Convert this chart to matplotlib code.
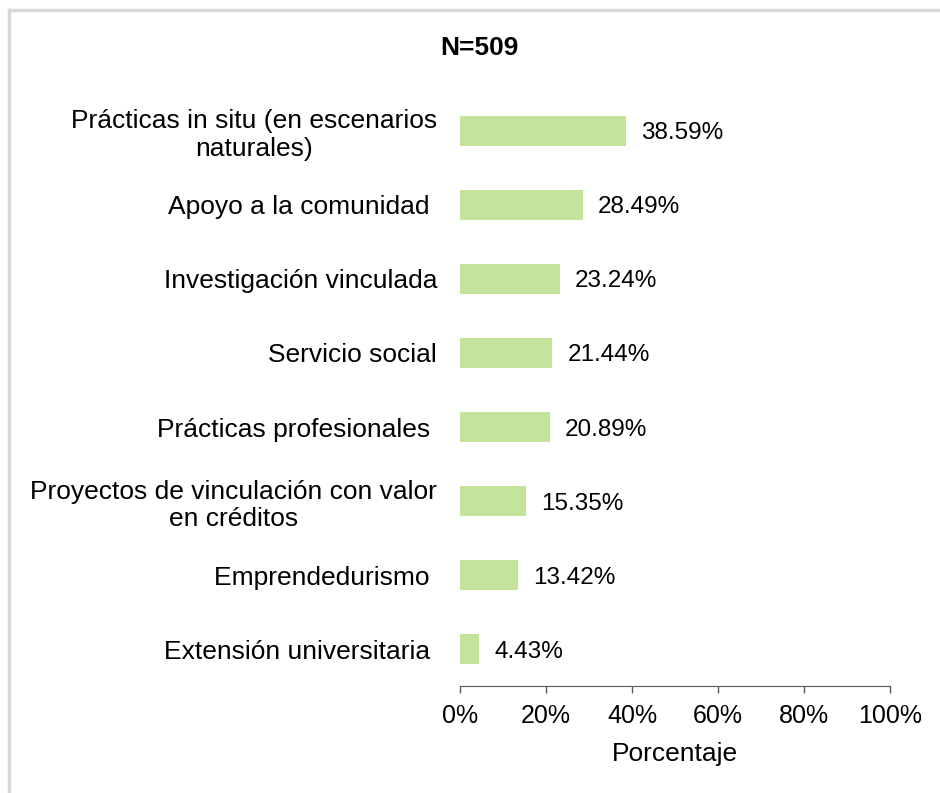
import matplotlib.pyplot as plt
from matplotlib.lines import Line2D
from matplotlib.ticker import PercentFormatter

categories = [
    "Prácticas in situ (en escenarios\nnaturales)",
    "Apoyo a la comunidad ",
    "Investigación vinculada",
    "Servicio social",
    "Prácticas profesionales ",
    "Proyectos de vinculación con valor\nen créditos",
    "Emprendedurismo ",
    "Extensión universitaria ",
]
values = [38.59, 28.49, 23.24, 21.44, 20.89, 15.35, 13.42, 4.43]
x_ticks = [0, 20, 40, 60, 80, 100]

plt.rcParams['font.family'] = ['Liberation Sans', 'DejaVu Sans']
fs = 19

fig = plt.figure(figsize=(9.4, 7.93), dpi=100)
ax = fig.add_axes([0.4894, 0.1349, 0.4574, 0.7466])

pos = list(range(len(categories)))
bars = ax.barh(pos, values, height=0.41, color='#C4E49C')
ax.set_ylim(len(categories) - 0.5, -0.5)
ax.set_xlim(0, 100)

ax.set_yticks(pos)
ax.set_yticklabels(categories, fontsize=fs, multialignment='center')
ax.tick_params(axis='y', length=0, pad=16.5)

ax.set_xticks(x_ticks)
ax.xaxis.set_major_formatter(PercentFormatter(decimals=0))
ax.tick_params(axis='x', length=5, width=1, color='#595959', labelsize=18, pad=8)
ax.set_xlabel('Porcentaje', fontsize=fs, labelpad=10)

for s in ['top', 'right', 'left']:
    ax.spines[s].set_visible(False)
ax.spines['bottom'].set_color('#595959')

lbls = ax.bar_label(bars, labels=[f"{v:.2f}%" for v in values], padding=11, fontsize=17.5)
for t in lbls:
    t.set_va('center_baseline')

fig.text(0.51, 0.94, 'N=509', ha='center', va='center', fontsize=fs, fontweight='bold')

# borde del grafico (recortado a la derecha y abajo)
fig.add_artist(Line2D([0.0101, 0.0101], [0, 0.987], color='#D9D9D9', lw=2.5, transform=fig.transFigure))
fig.add_artist(Line2D([0.0101, 1], [0.987, 0.987], color='#D9D9D9', lw=2.5, transform=fig.transFigure))

fig.savefig('out.png', dpi=100)
